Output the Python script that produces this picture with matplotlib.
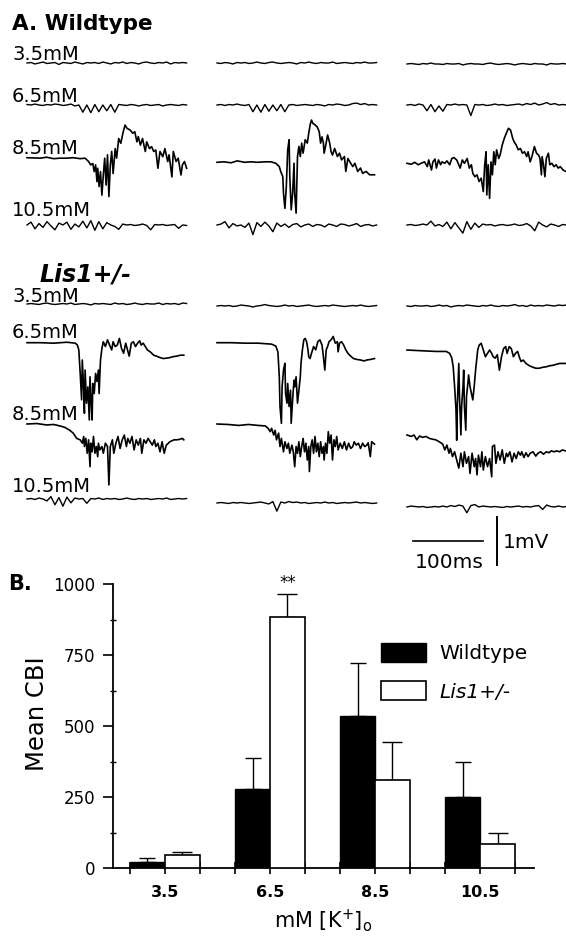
import numpy as np
import matplotlib
matplotlib.use("Agg")
import matplotlib.pyplot as plt

plt.rcParams['font.family'] = ['DejaVu Sans']

# ---------------- B. mean CBI per [K+]o ----------------
k_labels = ['3.5', '6.5', '8.5', '10.5']
wt_mean = [22, 277, 535, 251]
wt_err = [12, 109, 188, 122]
lis_mean = [45, 885, 310, 83]
lis_err = [11, 80, 135, 39]

# ---------------- A. field potential traces (ms, mV) ----------------
# large events, read as (time, voltage) points
wt85_a_t = [0, 19, 28, 38, 47, 57, 66, 76, 83, 88, 91, 94, 96, 98, 100, 101, 103, 105, 107, 109,
            111, 113, 115, 117, 119, 121, 123, 126, 128, 131, 134, 137, 140, 143, 147, 151, 154, 157,
            159, 162, 165, 169, 171, 175, 178, 181, 184, 187, 190, 194, 197, 201, 203, 207, 209, 213,
            216, 220, 222, 225, 228]
wt85_a_v = [0, -0.01, 0.01, -0.02, -0.01, -0.01, 0, -0.02, -0.01, -0.08, -0.15, -0.12, -0.29, -0.15,
            -0.5, -0.22, -0.6, -0.29, -0.78, -0.36, -0.01, -0.57, 0.06, -0.81, -0.15, 0.13, -0.33, 0.19,
            -0.01, 0.40, 0.30, 0.51, 0.68, 0.61, 0.58, 0.51, 0.54, 0.33, 0.44, 0.26, 0.40, 0.13, 0.33,
            0.19, 0.23, 0.13, 0.16, -0.22, 0.13, 0.02, 0.19, -0.08, 0.06, -0.40, 0.13, -0.08, -0.01,
            -0.36, -0.15, -0.08, -0.22]

wt85_b_t = [0, 10, 20, 29, 39, 49, 58, 68, 77, 84, 89, 91, 94, 95, 97, 99, 101, 103, 104, 106, 108,
            110, 111, 113, 115, 117, 119, 121, 123, 126, 129, 131, 133, 135, 137, 140, 143, 146, 148,
            150, 152, 153, 155, 158, 161, 163, 165, 168, 172, 175, 178, 182, 184, 187, 191, 194, 197,
            201, 205, 208, 213, 218, 222, 225]
wt85_b_v = [0, 0.01, -0.01, 0.03, 0, 0.01, 0, 0.01, 0.01, -0.02, -0.09, -0.19, -0.30, -0.65, -0.96,
            -0.51, 0.26, 0.47, -0.30, -0.99, -0.65, -0.02, -0.65, -1.06, 0.12, 0.33, 0.12, 0.40, 0.19,
            0.47, 0.40, 0.60, 0.78, 0.88, 0.81, 0.78, 0.74, 0.64, 0.40, 0.53, 0.40, 0.19, 0.33, 0.57,
            0.40, 0.22, 0.15, 0.29, 0.12, 0.19, 0.05, 0.12, -0.19, 0.08, -0.02, -0.09, -0.02, -0.19,
            -0.12, -0.23, -0.19, -0.26, -0.26, -0.26]

wt85_c_t = [0, 6, 11, 16, 20, 25, 29, 31, 35, 37, 40, 42, 45, 48, 50, 54, 57, 61, 64, 67, 71, 73, 76,
            79, 82, 86, 89, 92, 94, 97, 100, 103, 106, 109, 111, 113, 114, 116, 118, 120, 122, 124,
            126, 128, 131, 133, 136, 139, 142, 145, 148, 151, 153, 156, 159, 162, 165, 168, 171, 173,
            176, 179, 182, 185, 188, 190, 192, 193, 195, 197, 199, 202, 204, 207, 210, 213, 216, 219,
            223, 227]
wt85_c_v = [0, -0.02, 0.02, -0.03, 0, 0.03, -0.07, 0.07, -0.14, 0.03, 0.09, -0.10, 0.07, -0.03, 0.03,
            0, 0.05, -0.03, 0.10, 0.12, 0.07, 0, -0.10, 0.07, 0, 0.10, -0.10, -0.03, -0.21, -0.28,
            -0.24, -0.38, -0.31, -0.59, -0.03, 0.24, -0.66, -0.03, -0.73, 0.03, -0.24, 0.24, -0.03,
            0.28, 0.10, 0.17, 0.38, 0.52, 0.63, 0.73, 0.69, 0.52, 0.45, 0.38, 0.28, 0.31, 0.21, 0.24,
            0.14, 0.24, 0.03, 0.17, 0.35, 0.21, 0.17, 0.10, -0.24, 0.14, -0.03, -0.28, 0.10, 0.21,
            -0.03, 0, -0.07, -0.03, -0.10, -0.07, -0.14, -0.17]

lis65_a_t = [0, 19, 38, 57, 69, 72, 74, 76, 78, 79, 81, 82, 83, 85, 87, 89, 90, 92, 93, 94, 96, 98,
             100, 102, 103, 105, 107, 109, 112, 115, 118, 121, 123, 126, 129, 132, 135, 138, 141, 143,
             146, 149, 152, 155, 158, 161, 163, 166, 169, 172, 176, 181, 185, 190, 195, 200, 204, 209,
             214, 219, 224]
lis65_a_v = [0, 0, -0.01, 0.01, -0.01, -0.05, -0.15, -0.64, -1.19, -0.36, -0.99, -1.47, -0.57, -1.26,
             -0.92, -1.61, -0.71, -1.33, -1.61, -0.85, -1.06, -0.64, -0.81, -0.57, -1.06, -0.36, -0.12,
             0.02, -0.08, 0.06, -0.05, -0.15, 0.02, -0.08, -0.05, 0.09, -0.12, -0.22, -0.01, -0.12,
             -0.28, -0.01, 0.02, -0.08, -0.01, 0.04, -0.05, -0.01, -0.08, -0.15, -0.19, -0.26, -0.28,
             -0.31, -0.33, -0.32, -0.31, -0.29, -0.28, -0.26, -0.26]

lis65_b_t = [0, 21, 40, 59, 78, 84, 87, 89, 90, 92, 93, 95, 97, 98, 100, 101, 103, 105, 106, 108, 110,
             111, 113, 115, 117, 119, 120, 122, 124, 126, 128, 130, 131, 133, 135, 138, 141, 144, 147,
             150, 152, 154, 156, 158, 160, 163, 166, 169, 172, 173, 175, 178, 181, 184, 187, 191, 195,
             200, 205, 210, 214, 219, 225]
lis65_b_v = [0, 0, -0.01, -0.01, -0.03, -0.07, -0.19, -0.71, -1.33, -1.68, -0.92, -0.57, -0.43, -1.06,
             -1.26, -0.85, -1.33, -0.99, -1.68, -1.19, -0.78, -0.92, -0.71, -1.26, -0.99, -0.71, -0.43,
             -0.15, 0.06, 0.09, 0.02, -0.15, -0.29, -0.33, -0.22, -0.08, -0.15, 0.02, 0.06, -0.05,
             -0.29, -0.57, -0.15, -0.08, 0.02, 0.06, 0.13, -0.01, 0.02, -0.19, -0.01, 0.02, -0.05,
             -0.15, -0.22, -0.28, -0.33, -0.35, -0.36, -0.38, -0.36, -0.35, -0.33]

lis65_c_t = [0, 13, 27, 41, 56, 61, 64, 66, 68, 70, 71, 72, 74, 75, 77, 78, 80, 81, 82, 84, 85, 87, 88,
             90, 92, 94, 96, 98, 100, 101, 103, 106, 109, 112, 115, 118, 121, 123, 126, 129, 132, 135,
             138, 141, 143, 146, 149, 152, 155, 158, 161, 163, 166, 170, 175, 180, 184, 189, 194, 199,
             203, 208, 213, 218, 222, 226]
lis65_c_v = [0, -0.01, -0.02, -0.03, -0.03, -0.07, -0.17, -0.35, -0.76, -1.25, -1.88, -1.11, -0.28,
             -0.97, -1.77, -1.18, -0.76, -0.42, -1.18, -1.67, -0.97, -0.69, -0.52, -0.76, -0.90, -1.04,
             -0.76, -0.42, -0.14, 0, 0.10, 0.14, 0, -0.14, -0.07, 0, -0.07, -0.14, -0.17, -0.10, -0.42,
             -0.14, 0.03, 0.07, -0.07, 0.07, 0.03, -0.14, -0.07, -0.03, -0.17, -0.24, -0.21, -0.28,
             -0.33, -0.36, -0.38, -0.38, -0.36, -0.35, -0.33, -0.32, -0.30, -0.28, -0.28, -0.28]

lis85_a_t = [0, 14, 28, 38, 47, 54, 61, 66, 71, 76, 79, 81, 82, 84, 86, 88, 90, 91, 93, 95, 97, 99,
             101, 102, 104, 107, 109, 112, 115, 117, 119, 122, 124, 127, 130, 133, 136, 139, 142, 144,
             147, 150, 153, 156, 159, 162, 164, 167, 170, 173, 176, 179, 182, 184, 187, 190, 193, 196,
             199, 202, 204, 207, 210, 214, 218, 222, 224]
lis85_a_v = [0, 0.01, -0.02, -0.01, -0.04, -0.07, -0.13, -0.19, -0.30, -0.33, -0.40, -0.26, -0.47,
             -0.30, -0.61, -0.33, -0.89, -0.40, -0.58, -0.26, -0.61, -0.47, -0.68, -0.40, -0.54, -0.47,
             -0.61, -0.40, -0.47, -1.27, -0.47, -0.33, -0.61, -0.40, -0.26, -0.51, -0.33, -0.23, -0.47,
             -0.30, -0.40, -0.26, -0.54, -0.33, -0.44, -0.30, -0.61, -0.33, -0.40, -0.30, -0.37, -0.44,
             -0.33, -0.47, -0.40, -0.58, -0.37, -0.61, -0.44, -0.40, -0.37, -0.35, -0.33, -0.33, -0.32,
             -0.30, -0.33]

lis85_b_t = [0, 16, 31, 45, 59, 69, 73, 76, 78, 81, 83, 85, 88, 90, 92, 95, 97, 100, 102, 104, 107,
             109, 111, 113, 115, 117, 119, 121, 123, 125, 127, 129, 131, 132, 134, 136, 138, 140, 142,
             144, 146, 148, 150, 152, 153, 155, 157, 159, 161, 163, 165, 167, 169, 171, 173, 176, 179,
             182, 185, 188, 191, 194, 196, 199, 202, 205, 208, 211, 214, 216, 219, 221, 225]
lis85_b_v = [0, -0.01, -0.03, -0.01, -0.03, -0.04, -0.09, -0.16, -0.09, -0.23, -0.13, -0.33, -0.19,
             -0.47, -0.30, -0.58, -0.37, -0.51, -0.40, -0.61, -0.44, -0.58, -0.89, -0.47, -0.61, -0.37,
             -0.68, -0.47, -0.30, -0.58, -0.40, -0.75, -0.47, -0.99, -0.47, -0.33, -0.61, -0.26, -0.58,
             -0.40, -0.68, -0.37, -0.61, -0.47, -0.75, -0.40, -0.61, -0.16, -0.40, -0.23, -0.75, -0.33,
             -0.47, -0.26, -0.54, -0.40, -0.51, -0.37, -0.54, -0.40, -0.51, -0.47, -0.37, -0.44, -0.40,
             -0.51, -0.40, -0.47, -0.44, -0.39, -0.68, -0.37, -0.42]

lis85_c_t = [0, 6, 10, 14, 18, 22, 27, 32, 37, 41, 46, 51, 54, 57, 60, 62, 65, 68, 71, 74, 77, 80, 82,
             85, 88, 90, 93, 96, 98, 100, 102, 105, 107, 109, 112, 115, 118, 121, 122, 125, 127, 130,
             133, 136, 139, 142, 144, 147, 150, 153, 156, 159, 162, 164, 167, 170, 173, 176, 180, 184,
             187, 191, 195, 199, 203, 206, 210, 214, 218, 222, 226]
lis85_c_v = [0, -0.03, 0, -0.10, -0.02, -0.05, -0.03, -0.07, -0.09, -0.10, -0.14, -0.19, -0.31, -0.21,
             -0.38, -0.28, -0.45, -0.35, -0.52, -0.69, -0.38, -0.66, -0.35, -0.59, -0.45, -0.80, -0.38,
             -0.66, -0.49, -0.83, -0.42, -0.66, -0.35, -0.73, -0.45, -0.66, -0.49, -0.87, -0.24, -0.21,
             -0.59, -0.35, -0.52, -0.31, -0.59, -0.38, -0.45, -0.35, -0.56, -0.38, -0.49, -0.35, -0.42,
             -0.35, -0.47, -0.37, -0.45, -0.38, -0.35, -0.44, -0.38, -0.35, -0.40, -0.35, -0.37, -0.33,
             -0.35, -0.33, -0.35, -0.31, -0.33]

# quiet traces, evenly sampled over the sweep (mV)
wt35_a = [0.00, 0.01, -0.02, 0.00, 0.02, -0.01, 0.00, 0.01, -0.03, 0.01, 0.00, -0.01, 0.02, 0.00,
          -0.02, 0.01, 0.00, 0.01, -0.01, 0.02, 0.00, -0.02, 0.01, 0.00, 0.02, -0.01, 0.01, 0.00,
          -0.02, 0.01, 0.02, 0.00, -0.01, 0.01, 0.00, 0.02, -0.02, 0.01, 0.00, 0.01, 0.00]
wt35_b = [0.00, -0.01, 0.01, 0.00, -0.02, 0.01, 0.00, 0.01, -0.01, 0.00, 0.02, 0.00, -0.01, 0.01,
          0.02, 0.00, -0.01, 0.00, 0.01, 0.00, -0.02, 0.01, 0.00, 0.02, 0.00, -0.01, 0.01, 0.00, 0.00,
          0.02, -0.01, 0.00, 0.01, 0.00, -0.01, 0.01, 0.00, 0.02, 0.00, 0.00, 0.01]
wt35_c = [0.00, 0.01, 0.00, -0.01, 0.01, 0.00, 0.02, 0.00, 0.00, -0.01, 0.01, 0.00, 0.00, 0.01,
          -0.02, 0.00, 0.01, 0.00, 0.00, -0.01, 0.01, 0.02, 0.00, -0.01, 0.00, 0.01, 0.00, -0.02,
          0.00, 0.01, 0.00, -0.01, 0.01, 0.00, 0.00, -0.02, 0.01, 0.00, 0.00, 0.01, 0.00]
wt65_a = [0.01, 0.00, 0.02, 0.00, -0.01, 0.01, 0.00, 0.02, 0.01, -0.01, 0.00, 0.02, -0.02, 0.00,
          -0.15, 0.00, -0.16, 0.01, -0.14, 0.00, -0.12, 0.01, -0.15, 0.01, 0.00, -0.01, 0.01, 0.00,
          -0.02, 0.00, 0.01, -0.01, 0.00, 0.01, -0.02, 0.00, 0.01, 0.00, -0.01, 0.01, 0.00]
wt65_b = [0.00, 0.01, -0.01, 0.01, 0.00, 0.02, 0.00, -0.01, 0.01, -0.14, 0.00, -0.15, 0.01, -0.13,
          0.00, -0.12, 0.01, -0.14, 0.00, 0.01, -0.01, 0.00, 0.01, 0.00, -0.01, 0.01, 0.00, -0.02,
          0.01, 0.00, 0.02, 0.01, -0.01, 0.00, 0.03, 0.04, 0.01, 0.03, 0.00, 0.01, 0.00]
wt65_c = [0.00, 0.01, -0.01, 0.02, 0.00, -0.12, 0.01, -0.14, -0.02, -0.13, 0.01, 0.00, 0.02, 0.00,
          0.01, 0.00, -0.22, 0.01, 0.00, 0.01, -0.01, 0.00, 0.02, 0.00, 0.01, -0.01, 0.00, 0.01,
          0.02, 0.00, 0.03, 0.01, 0.04, 0.00, 0.02, 0.05, 0.01, 0.03, 0.00, 0.01, 0.00]
wt105_a = [0.00, 0.06, -0.08, 0.03, -0.05, 0.07, -0.02, -0.10, 0.04, 0.00, 0.06, -0.09, 0.02, -0.04,
           0.08, -0.06, 0.09, -0.11, 0.07, -0.08, 0.05, 0.00, -0.03, -0.09, 0.02, 0.00, 0.01, -0.01,
           0.00, 0.02, -0.01, -0.10, 0.01, 0.00, 0.01, -0.01, 0.00, 0.01, -0.07, 0.00, -0.01]
wt105_b = [0.00, 0.02, 0.07, -0.06, 0.03, -0.02, 0.00, -0.05, 0.04, -0.20, 0.05, -0.03, 0.06, -0.02,
           -0.14, 0.04, -0.03, 0.02, -0.05, 0.01, 0.03, -0.04, 0.00, 0.02, -0.03, 0.01, 0.00, -0.04,
           0.02, 0.00, -0.03, 0.02, 0.01, -0.02, 0.00, 0.03, -0.03, 0.00, 0.01, -0.02, 0.00]
wt105_c = [0.00, 0.01, -0.01, 0.00, 0.02, 0.00, 0.08, -0.02, 0.01, -0.03, 0.06, -0.08, 0.05, -0.06,
           -0.17, 0.07, -0.09, 0.04, -0.05, 0.02, 0.00, 0.01, -0.02, 0.00, 0.01, -0.01, 0.00, 0.02,
           -0.01, 0.00, 0.03, -0.02, -0.12, 0.06, 0.00, -0.04, 0.02, 0.00, -0.03, 0.01, 0.00]
lis35_a = [0.00, 0.01, 0.00, -0.01, 0.01, 0.02, 0.00, -0.01, 0.00, 0.01, 0.00, 0.02, -0.01, 0.00,
           0.01, 0.00, -0.02, 0.01, 0.00, 0.01, 0.00, -0.01, 0.02, 0.00, 0.01, -0.01, 0.00, 0.02, 0.00,
           -0.01, 0.01, 0.00, 0.00, 0.02, -0.01, 0.01, 0.00, 0.01, -0.01, 0.02, 0.01]
lis35_b = [0.00, 0.01, 0.00, 0.01, -0.01, 0.00, 0.02, 0.01, 0.00, -0.02, 0.00, 0.01, 0.03, 0.01,
           0.00, -0.01, 0.00, 0.02, 0.00, 0.01, -0.01, 0.00, 0.01, 0.02, 0.00, -0.01, 0.00, 0.01, 0.00,
           0.02, 0.01, 0.00, -0.01, 0.00, 0.01, 0.00, 0.02, 0.00, -0.01, 0.00, 0.01]
lis35_c = [0.00, -0.01, 0.01, 0.00, 0.00, 0.01, -0.01, 0.00, 0.02, 0.00, 0.01, -0.02, 0.00, 0.01,
           0.00, 0.02, 0.01, 0.00, -0.01, 0.01, 0.00, 0.02, 0.00, -0.01, 0.01, 0.00, 0.01, 0.03, 0.00,
           0.01, -0.01, 0.02, 0.00, 0.01, 0.00, 0.02, 0.01, 0.00, 0.02, 0.01, 0.02]
lis105_a = [0.00, 0.01, -0.01, 0.02, 0.00, -0.04, 0.05, -0.12, 0.03, -0.15, 0.04, -0.08, 0.02, 0.00,
            0.01, -0.09, 0.01, 0.00, 0.02, -0.01, 0.01, 0.00, 0.01, -0.01, 0.00, 0.02, 0.00, -0.01,
            0.01, 0.00, 0.01, -0.01, 0.00, 0.01, 0.00, 0.02, -0.01, 0.00, 0.01, 0.00, 0.01]
lis105_b = [0.00, 0.01, 0.00, -0.01, 0.01, 0.00, 0.01, 0.00, -0.01, 0.00, 0.01, 0.02, 0.00, -0.02,
            0.03, -0.17, 0.02, 0.00, 0.03, 0.01, 0.02, 0.00, 0.01, -0.01, 0.00, 0.01, 0.00, 0.02, 0.00,
            0.01, -0.01, 0.00, 0.01, 0.00, 0.01, 0.02, 0.00, 0.01, 0.00, -0.01, 0.00]
lis105_c = [0.00, 0.02, 0.01, 0.00, 0.01, -0.01, 0.00, 0.01, 0.00, 0.02, 0.00, 0.03, 0.01, 0.04,
            0.02, -0.12, 0.03, 0.05, 0.00, 0.02, 0.01, 0.00, 0.01, 0.00, -0.01, 0.01, 0.00, 0.01, 0.02,
            0.00, 0.01, 0.00, 0.02, 0.03, -0.05, 0.04, 0.01, 0.00, 0.02, 0.00, 0.01]

# ---------------- layout (pixels of the 566x936 figure) ----------------
W, H = 566, 936
MS_PER_PX = 100 / 70.0      # 100 ms scale bar is 70 px
PX_PER_MV = 48.0            # 1 mV scale bar is 48 px
SWEEP_MS = 228
COL_X = [27, 217, 407]

def fx(px):
    return px / W

def fy(py):
    return 1 - py / H

def quiet(v):
    return np.linspace(0, SWEEP_MS, len(v)), v

# (traces for the 3 columns, baseline y in px per column, line width)
rows = [
    ([quiet(wt35_a), quiet(wt35_b), quiet(wt35_c)], [63, 63, 64], 1.0),
    ([quiet(wt65_a), quiet(wt65_b), quiet(wt65_c)], [105, 105, 105], 1.0),
    ([(wt85_a_t, wt85_a_v), (wt85_b_t, wt85_b_v), (wt85_c_t, wt85_c_v)], [157.7, 162.3, 163.3], 1.2),
    ([quiet(wt105_a), quiet(wt105_b), quiet(wt105_c)], [225, 225, 225], 1.0),
    ([quiet(lis35_a), quiet(lis35_b), quiet(lis35_c)], [304, 306, 306], 1.0),
    ([(lis65_a_t, lis65_a_v), (lis65_b_t, lis65_b_v), (lis65_c_t, lis65_c_v)], [342.7, 342.7, 350], 1.2),
    ([(lis85_a_t, lis85_a_v), (lis85_b_t, lis85_b_v), (lis85_c_t, lis85_c_v)], [424, 424, 435], 1.2),
    ([quiet(lis105_a), quiet(lis105_b), quiet(lis105_c)], [499, 503, 507], 1.0),
]

fig = plt.figure(figsize=(W / 100, H / 100), dpi=100)

# ---- panel A ----
ax_a = fig.add_axes([0, 0, 1, 1])
ax_a.set_xlim(0, W * MS_PER_PX)
ax_a.set_ylim(0, H / PX_PER_MV)
ax_a.axis('off')

for traces, bases, lw in rows:
    for col, ((t, v), base) in enumerate(zip(traces, bases)):
        x0 = COL_X[col] * MS_PER_PX
        y0 = (H - base) / PX_PER_MV
        ax_a.plot(x0 + np.asarray(t), y0 + np.asarray(v), color='black', lw=lw)

# scale bars: 100 ms and 1 mV
sx = 413 * MS_PER_PX
sy = (H - 541) / PX_PER_MV
ax_a.plot([sx, sx + 100], [sy, sy], color='black', lw=1.2)
vx = 497 * MS_PER_PX
vy = (H - 565) / PX_PER_MV
ax_a.plot([vx, vx], [vy, vy + 1], color='black', lw=1.4)
fig.text(fx(449), fy(563), '100ms', ha='center', va='center', fontsize=14.5)
fig.text(fx(503), fy(542), '1mV', ha='left', va='center', fontsize=14.5)

fig.text(fx(12), fy(29.6), 'A. Wildtype', fontsize=15.5, fontweight='bold', va='baseline')
fig.text(fx(40), fy(281.6), 'Lis1+/-', fontsize=17, fontweight='bold', style='italic', va='baseline')

row_labels = ['3.5mM', '6.5mM', '8.5mM', '10.5mM']
wt_label_y = [60, 102, 154, 216]
lis_label_y = [302, 338, 420, 492]
for lab, y1, y2 in zip(row_labels, wt_label_y, lis_label_y):
    fig.text(fx(12), fy(y1), lab, fontsize=14, va='baseline')
    fig.text(fx(12), fy(y2), lab, fontsize=14, va='baseline')

# ---- panel B ----
ax_b = fig.add_axes([fx(113), fy(868), (534 - 113) / W, (868 - 584) / H])
x = np.arange(len(k_labels))
bw = 0.333
ax_b.bar(x - bw / 2, wt_mean, bw, color='black', edgecolor='black', lw=1.0, label='Wildtype', zorder=3)
ax_b.bar(x + bw / 2, lis_mean, bw, color='white', edgecolor='black', lw=1.2, label='Lis1+/-', zorder=3)
ax_b.errorbar(x - bw / 2, wt_mean, yerr=[np.zeros(len(x)), wt_err], fmt='none',
              ecolor='black', elinewidth=1.0, capsize=6, capthick=1.0, zorder=2)
ax_b.errorbar(x + bw / 2, lis_mean, yerr=[np.zeros(len(x)), lis_err], fmt='none',
              ecolor='black', elinewidth=1.0, capsize=7, capthick=1.0, zorder=2)
ax_b.text(x[1] + bw / 2, 986, '**', ha='center', va='baseline', fontsize=12)

ax_b.set_xlim(-0.495, 3.514)
ax_b.set_ylim(0, 1000)
ax_b.spines['top'].set_visible(False)
ax_b.spines['right'].set_visible(False)
ax_b.spines['left'].set_linewidth(1.3)
ax_b.spines['bottom'].set_linewidth(1.3)

ax_b.set_xticks(x)
ax_b.set_xticklabels(k_labels, fontweight='bold', fontsize=11.5)
ax_b.set_xticks(np.concatenate([x - bw, x + bw]), minor=True)
ax_b.tick_params(axis='x', which='both', direction='inout', length=8, width=1.2, pad=8)
ax_b.set_yticks([0, 250, 500, 750, 1000])
ax_b.set_yticks([125, 375, 625, 875], minor=True)
ax_b.tick_params(axis='y', which='major', direction='out', length=7, width=1.2, pad=6, labelsize=12)
ax_b.tick_params(axis='y', which='minor', direction='inout', length=4, width=1.0)

ax_b.set_xlabel('mM [K$^{+}$]$_{\\mathrm{o}}$', fontsize=15)
ax_b.xaxis.set_label_coords(0.5, (868 - 907) / 284)
ax_b.set_ylabel('Mean CBI', fontsize=17.5)
ax_b.yaxis.set_label_coords((49 - 113) / 421, (868 - 714) / 284)

leg = ax_b.legend(loc='upper left', bbox_to_anchor=(fx(381), fy(643)), bbox_transform=fig.transFigure,
                  frameon=False, fontsize=14.5, handlelength=2.24, handleheight=1.05,
                  handletextpad=0.65, labelspacing=0.9, borderpad=0, borderaxespad=0)
leg.get_texts()[1].set_style('italic')

fig.text(fx(8), fy(590), 'B.', fontsize=15, fontweight='bold', va='baseline')

fig.savefig('out.png', dpi=100)
